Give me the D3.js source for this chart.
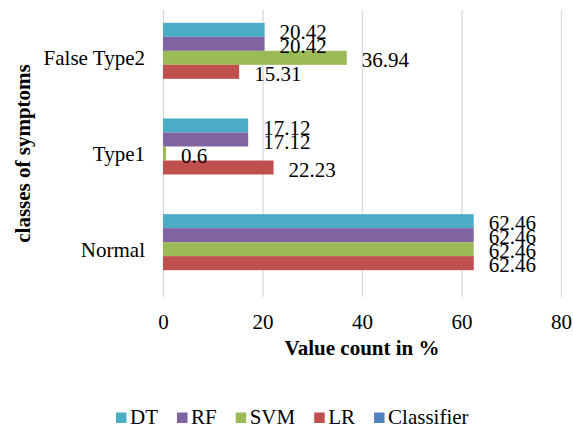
<!DOCTYPE html>
<html>
<head>
<meta charset="utf-8">
<script src="https://cdn.jsdelivr.net/npm/d3@7"></script>
<style>
  body { margin: 0; background: #fff; }
  svg, svg text { font-family: "Liberation Serif", "Times New Roman", Times, serif !important; }
  svg { display: block; }
</style>
</head>
<body>
<svg id="chart" width="573" height="426"></svg>
<script>
// ---- data ----
const categories = ["False Type2", "Type1", "Normal"];
const seriesNames = ["DT", "RF", "SVM", "LR", "Classifier"];
const dtValues = [20.42, 17.12, 62.46];
const rfValues = [20.42, 17.12, 62.46];
const svmValues = [36.94, 0.6, 62.46];
const lrValues = [15.31, 22.23, 62.46];
const classifierValues = [null, null, null];
const xTicks = [0, 20, 40, 60, 80];
const seriesColors = ["#4BACC6", "#8064A2", "#9BBB59", "#C0504D", "#4F81BD"];

const seriesValues = [dtValues, rfValues, svmValues, lrValues, classifierValues];
const FONT = "'Liberation Serif', 'Times New Roman', Times, serif";

// ---- layout ----
const svg = d3.select("#chart");
const plot = { left: 163, right: 561, top: 10, bottom: 297 };

const x = d3.scaleLinear().domain([0, 80]).range([plot.left, plot.right]);
const y = d3.scaleBand().domain(categories).range([plot.top, plot.bottom])
  .paddingInner(0.268).paddingOuter(0.134);
const ys = d3.scaleBand().domain(seriesNames).range([0, y.bandwidth()]);

// gridlines
const grid = svg.append("g")
  .attr("transform", `translate(0,${plot.bottom})`)
  .call(d3.axisBottom(x).tickValues(xTicks).tickSize(-(plot.bottom - plot.top)).tickFormat(""));
grid.select(".domain").remove();
grid.selectAll("line").attr("stroke", "#d9d9d9").attr("stroke-width", 1.3);

// x tick labels
const xAxis = svg.append("g")
  .attr("transform", `translate(0,${plot.bottom})`)
  .call(d3.axisBottom(x).tickValues(xTicks).tickSize(0).tickPadding(17).tickFormat(d3.format("d")));
xAxis.attr("font-family", FONT);
xAxis.select(".domain").remove();
xAxis.selectAll("text").attr("font-size", 21).attr("fill", "#000");

// y category labels
const yAxis = svg.append("g")
  .attr("transform", `translate(${plot.left},0)`)
  .call(d3.axisLeft(y).tickSize(0).tickPadding(18));
yAxis.attr("font-family", FONT);
yAxis.select(".domain").remove();
yAxis.selectAll("text").attr("font-size", 21).attr("fill", "#000")
  .attr("dy", "0.36em");

// bars
const rows = [];
categories.forEach((c, ci) => {
  seriesNames.forEach((s, si) => {
    const v = seriesValues[si][ci];
    if (v !== null) rows.push({ cat: c, series: s, value: v, color: seriesColors[si] });
  });
});

svg.append("g").selectAll("rect").data(rows).join("rect")
  .attr("x", x(0))
  .attr("y", d => y(d.cat) + ys(d.series))
  .attr("width", d => x(d.value) - x(0))
  .attr("height", ys.bandwidth())
  .attr("fill", d => d.color);

// data labels
svg.append("g").attr("font-family", FONT).selectAll("text").data(rows).join("text")
  .attr("x", d => x(d.value) + 15)
  .attr("y", d => y(d.cat) + ys(d.series) + ys.bandwidth() / 2)
  .attr("dy", "0.43em")
  .attr("font-size", 21)
  .attr("fill", "#000")
  .text(d => d.value);

// axis titles
svg.append("text")
  .attr("x", (plot.left + plot.right) / 2)
  .attr("y", 355)
  .attr("text-anchor", "middle")
  .attr("font-family", FONT)
  .attr("font-size", 21)
  .attr("font-weight", "bold")
  .text("Value count in %");

svg.append("text")
  .attr("transform", `translate(30,${(plot.top + plot.bottom) / 2}) rotate(-90)`)
  .attr("text-anchor", "middle")
  .attr("font-family", FONT)
  .attr("font-size", 21)
  .attr("font-weight", "bold")
  .text("classes of symptoms");

// legend
const legend = svg.append("g").attr("font-family", FONT);
let lx = 116;
seriesNames.forEach((s, i) => {
  legend.append("rect")
    .attr("x", lx).attr("y", 412.5).attr("width", 10.5).attr("height", 10.5)
    .attr("fill", seriesColors[i]);
  const t = legend.append("text")
    .attr("x", lx + 14).attr("y", 423.5)
    .attr("font-size", 21)
    .text(s);
  lx += 14 + t.node().getComputedTextLength() + 19;
});
</script>
</body>
</html>
